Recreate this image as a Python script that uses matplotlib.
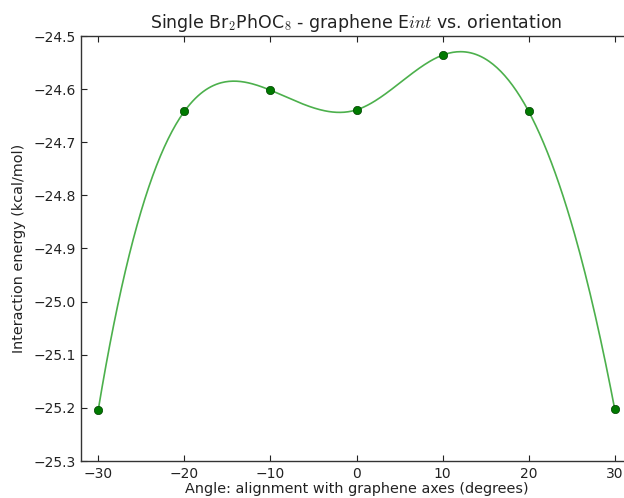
import numpy as np
import matplotlib
matplotlib.use("Agg")
import matplotlib.pyplot as plt

angles = [-30, -20, -10, 0, 10, 20, 30]
energies = [-25.204, -24.642, -24.602, -24.639, -24.536, -24.642, -25.203]
xticks = [-30, -20, -10, 0, 10, 20, 30]
yticks = [-25.3, -25.2, -25.1, -25.0, -24.9, -24.8, -24.7, -24.6, -24.5]


def notaknot_spline(x, y, xs):
    x = np.asarray(x, float)
    y = np.asarray(y, float)
    n = len(x) - 1
    A = np.zeros((4 * n, 4 * n))
    b = np.zeros(4 * n)
    r = 0
    for i in range(n):
        h = x[i + 1] - x[i]
        A[r, 4 * i] = 1; b[r] = y[i]; r += 1
        A[r, 4 * i:4 * i + 4] = [1, h, h ** 2, h ** 3]; b[r] = y[i + 1]; r += 1
    for i in range(n - 1):
        h = x[i + 1] - x[i]
        A[r, 4 * i:4 * i + 4] = [0, 1, 2 * h, 3 * h ** 2]; A[r, 4 * (i + 1) + 1] = -1; r += 1
        A[r, 4 * i:4 * i + 4] = [0, 0, 2, 6 * h]; A[r, 4 * (i + 1) + 2] = -2; r += 1
    A[r, 3] = 1; A[r, 7] = -1; r += 1
    A[r, 4 * (n - 2) + 3] = 1; A[r, 4 * (n - 1) + 3] = -1; r += 1
    c = np.linalg.solve(A, b)
    idx = np.clip(np.searchsorted(x, xs) - 1, 0, n - 1)
    t = xs - x[idx]
    return c[4 * idx] + c[4 * idx + 1] * t + c[4 * idx + 2] * t ** 2 + c[4 * idx + 3] * t ** 3


plt.rcParams['mathtext.fontset'] = 'cm'
plt.rcParams['font.family'] = 'DejaVu Sans'

fig = plt.figure(figsize=(6.24, 4.98), dpi=100)
ax = fig.add_axes([81 / 624, 37 / 498, 551 / 624, 425 / 498])

xs = np.linspace(min(angles), max(angles), 400)
ax.plot(xs, notaknot_spline(angles, energies, xs), color='#4cb04c', lw=1.2)
ax.plot(angles, energies, 'o', color='#007a00', markersize=6,
        markeredgecolor='#004000', markeredgewidth=0.5)

ax.set_xlim(-32, 32)
ax.set_ylim(-25.3, -24.5)
ax.set_xticks(xticks)
ax.set_yticks(yticks)
ax.set_yticklabels([f"{v:.1f}".replace('-', '\u2212') for v in yticks])
ax.tick_params(direction='in', length=4, width=0.8, top=True, right=False,
               labelsize=10.0, pad=4, colors='#222222')
for s in ax.spines.values():
    s.set_color('#333333')
    s.set_linewidth(1.0)

ax.set_title(r"Single Br$_2$PhOC$_8$ - graphene E$int$ vs. orientation",
             fontsize=12.5, pad=6, color='#222222')
ax.set_xlabel("Angle: alignment with graphene axes (degrees)", fontsize=10.4,
              labelpad=1, color='#222222')
ax.set_ylabel("Interaction energy (kcal/mol)", fontsize=10.4, labelpad=5,
              color='#222222')

fig.savefig("out.png", dpi=100)
